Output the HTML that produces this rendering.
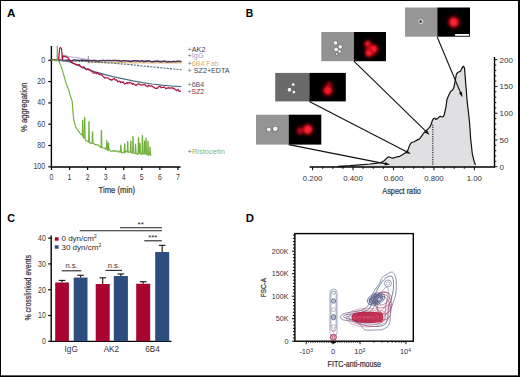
<!DOCTYPE html>
<html><head><meta charset="utf-8"><style>
html,body{margin:0;padding:0;background:#fff;overflow:hidden;width:520px;height:377px;}
svg{display:block;font-family:"Liberation Sans", sans-serif;}
</style></head><body>
<svg width="520" height="377" viewBox="0 0 520 377">
<defs>
<filter id="gl" x="-100%" y="-100%" width="300%" height="300%"><feGaussianBlur stdDeviation="1.5"/></filter>
<filter id="bl" x="-100%" y="-100%" width="300%" height="300%"><feGaussianBlur stdDeviation="0.8"/></filter>
<filter id="bl2" x="-100%" y="-100%" width="300%" height="300%"><feGaussianBlur stdDeviation="0.45"/></filter>
</defs>
<rect x="0" y="0" width="520" height="377" fill="#fff"/>
<text x="7.1" y="17.1" font-size="11.6" fill="#000" text-anchor="start" font-weight="bold" textLength="8.4" lengthAdjust="spacingAndGlyphs" >A</text>
<line x1="51.4" y1="46" x2="51.4" y2="167.6" stroke="#000" stroke-width="1.4"/>
<line x1="50.7" y1="167" x2="180.6" y2="167" stroke="#000" stroke-width="1.4"/>
<line x1="48.3" y1="60.30" x2="51" y2="60.30" stroke="#000" stroke-width="1.2"/>
<text x="45.1" y="62.699999999999996" font-size="8.2" fill="#3a3a3a" text-anchor="end" font-weight="normal" textLength="3.9" lengthAdjust="spacingAndGlyphs" >0</text>
<line x1="48.3" y1="81.60" x2="51" y2="81.60" stroke="#000" stroke-width="1.2"/>
<text x="45.1" y="84.0" font-size="8.2" fill="#3a3a3a" text-anchor="end" font-weight="normal" textLength="7.8" lengthAdjust="spacingAndGlyphs" >20</text>
<line x1="48.3" y1="102.90" x2="51" y2="102.90" stroke="#000" stroke-width="1.2"/>
<text x="45.1" y="105.3" font-size="8.2" fill="#3a3a3a" text-anchor="end" font-weight="normal" textLength="7.8" lengthAdjust="spacingAndGlyphs" >40</text>
<line x1="48.3" y1="124.20" x2="51" y2="124.20" stroke="#000" stroke-width="1.2"/>
<text x="45.1" y="126.6" font-size="8.2" fill="#3a3a3a" text-anchor="end" font-weight="normal" textLength="7.8" lengthAdjust="spacingAndGlyphs" >60</text>
<line x1="48.3" y1="145.50" x2="51" y2="145.50" stroke="#000" stroke-width="1.2"/>
<text x="45.1" y="147.9" font-size="8.2" fill="#3a3a3a" text-anchor="end" font-weight="normal" textLength="7.8" lengthAdjust="spacingAndGlyphs" >80</text>
<line x1="48.3" y1="166.80" x2="51" y2="166.80" stroke="#000" stroke-width="1.2"/>
<text x="45.1" y="169.20000000000002" font-size="8.2" fill="#3a3a3a" text-anchor="end" font-weight="normal" textLength="11.7" lengthAdjust="spacingAndGlyphs" >100</text>
<line x1="51.50" y1="167" x2="51.50" y2="170" stroke="#000" stroke-width="1.2"/>
<text x="51.5" y="180.2" font-size="8.2" fill="#3a3a3a" text-anchor="middle" font-weight="normal" textLength="3.9" lengthAdjust="spacingAndGlyphs" >0</text>
<line x1="69.56" y1="167" x2="69.56" y2="170" stroke="#000" stroke-width="1.2"/>
<text x="69.56" y="180.2" font-size="8.2" fill="#3a3a3a" text-anchor="middle" font-weight="normal" textLength="3.9" lengthAdjust="spacingAndGlyphs" >1</text>
<line x1="87.62" y1="167" x2="87.62" y2="170" stroke="#000" stroke-width="1.2"/>
<text x="87.62" y="180.2" font-size="8.2" fill="#3a3a3a" text-anchor="middle" font-weight="normal" textLength="3.9" lengthAdjust="spacingAndGlyphs" >2</text>
<line x1="105.68" y1="167" x2="105.68" y2="170" stroke="#000" stroke-width="1.2"/>
<text x="105.67999999999999" y="180.2" font-size="8.2" fill="#3a3a3a" text-anchor="middle" font-weight="normal" textLength="3.9" lengthAdjust="spacingAndGlyphs" >3</text>
<line x1="123.74" y1="167" x2="123.74" y2="170" stroke="#000" stroke-width="1.2"/>
<text x="123.74" y="180.2" font-size="8.2" fill="#3a3a3a" text-anchor="middle" font-weight="normal" textLength="3.9" lengthAdjust="spacingAndGlyphs" >4</text>
<line x1="141.80" y1="167" x2="141.80" y2="170" stroke="#000" stroke-width="1.2"/>
<text x="141.8" y="180.2" font-size="8.2" fill="#3a3a3a" text-anchor="middle" font-weight="normal" textLength="3.9" lengthAdjust="spacingAndGlyphs" >5</text>
<line x1="159.86" y1="167" x2="159.86" y2="170" stroke="#000" stroke-width="1.2"/>
<text x="159.85999999999999" y="180.2" font-size="8.2" fill="#3a3a3a" text-anchor="middle" font-weight="normal" textLength="3.9" lengthAdjust="spacingAndGlyphs" >6</text>
<line x1="177.92" y1="167" x2="177.92" y2="170" stroke="#000" stroke-width="1.2"/>
<text x="177.92" y="180.2" font-size="8.2" fill="#3a3a3a" text-anchor="middle" font-weight="normal" textLength="3.9" lengthAdjust="spacingAndGlyphs" >7</text>
<text x="116.8" y="192.8" font-size="9.2" fill="#333" text-anchor="middle" font-weight="normal" textLength="36.4" lengthAdjust="spacingAndGlyphs" stroke="#333" stroke-width="0.22">Time (min)</text>
<g transform="translate(27.1,107.3) rotate(-90)"><text x="0" y="0" font-size="9.2" fill="#333" text-anchor="middle" font-weight="normal" textLength="49.5" lengthAdjust="spacingAndGlyphs" stroke="#333" stroke-width="0.22">% aggregation</text></g>
<polyline points="51.50,60.30 60.00,60.30 62.50,56.00 65.00,55.30 68.00,56.50 75.00,57.50 88.00,59.50 90.00,60.43 92.29,60.39 94.58,60.61 96.86,60.40 99.15,60.61 101.44,60.57 103.72,60.47 106.01,60.68 108.30,60.51 110.59,60.70 112.88,60.58 115.16,60.61 117.45,60.77 119.74,60.96 122.03,60.70 124.31,60.76 126.60,60.95 128.89,61.10 131.18,60.98 133.46,60.93 135.75,61.19 138.04,60.84 140.32,61.19 142.61,60.99 144.90,60.96 147.19,60.97 149.47,61.07 151.76,61.30 154.05,61.07 156.34,61.26 158.62,61.31 160.91,61.22 163.20,61.32 165.49,61.15 167.78,61.17 170.06,61.26 172.35,61.47 174.64,61.40 176.93,61.38 179.21,61.51 181.50,61.48" fill="none" stroke="#b3a7d6" stroke-width="1.1"/>
<polyline points="88.50,62.32 90.83,62.53 93.15,62.51 95.47,62.34 97.80,62.49 100.12,62.49 102.45,62.64 104.78,62.60 107.10,62.44 109.42,62.73 111.75,62.40 114.08,62.53 116.40,62.68 118.72,62.46 121.05,62.61 123.38,62.44 125.70,62.71 128.03,62.76 130.35,62.70 132.68,62.84 135.00,62.63 137.32,62.79 139.65,62.77 141.97,62.78 144.30,62.74 146.62,62.91 148.95,62.97 151.28,62.79 153.60,62.89 155.93,62.66 158.25,62.93 160.57,62.92 162.90,63.08 165.22,63.02 167.55,62.82 169.88,62.88 172.20,63.01 174.53,62.76 176.85,62.95 179.18,62.85 181.50,62.85" fill="none" stroke="#e2bc86" stroke-width="1.2"/>
<line x1="88.3" y1="56" x2="88.3" y2="63.5" stroke="#777" stroke-width="0.8"/>
<polyline points="51.50,60.50 70.00,61.00 88.00,61.60 110.00,63.00 130.00,64.60 150.00,66.70 181.50,69.80" fill="none" stroke="#4f6f78" stroke-width="1.1" stroke-dasharray="2.2,1.1"/>
<polyline points="51.50,59.70 52.80,60.36 54.10,59.80 55.40,59.92 56.70,60.07 58.00,60.51 59.30,59.82 60.60,60.17 61.90,60.27 63.20,60.59 64.50,60.55 65.80,60.60 67.10,60.09 68.40,60.23 69.70,60.20 71.00,60.69 72.30,60.77 73.60,60.06 74.90,60.10 76.20,60.16 77.50,60.18 78.80,60.42 80.10,60.53 81.40,60.25 82.70,60.04 84.00,60.43 85.30,60.40 86.60,60.59 87.90,60.96 89.20,60.74 90.50,60.59 91.80,60.70 93.10,60.77 94.40,60.23 95.70,61.00 97.00,60.91 98.30,61.01 99.60,60.96 100.90,60.61 102.20,60.63 103.50,60.38 104.80,60.88 106.10,60.38 107.40,60.40 108.70,60.54 110.00,60.52 111.30,60.69 112.60,60.45 113.90,60.42 115.20,60.57 116.50,60.54 117.80,60.79 119.10,60.50 120.40,61.28 121.70,61.07 123.00,60.66 124.30,60.77 125.60,60.87 126.90,60.91 128.20,60.70 129.50,61.37 130.80,61.52 132.10,61.06 133.40,61.09 134.70,60.75 136.00,60.78 137.30,61.01 138.60,60.96 139.90,61.48 141.20,60.90 142.50,60.79 143.80,61.64 145.10,61.28 146.40,60.95 147.70,61.32 149.00,60.87 150.30,61.34 151.60,61.76 152.90,61.67 154.20,61.54 155.50,61.17 156.80,61.28 158.10,61.11 159.40,61.67 160.70,61.47 162.00,61.71 163.30,61.32 164.60,61.24 165.90,61.79 167.20,61.96 168.50,61.86 169.80,61.83 171.10,61.86 172.40,61.80 173.70,61.36 175.00,61.64 176.30,61.51 177.60,61.23 178.90,61.24 180.20,61.49 181.50,61.48" fill="none" stroke="#4b3352" stroke-width="1.5"/>
<polyline points="51.50,60.40 60.00,60.50 66.00,61.00 72.00,62.80 78.00,65.30 85.00,68.60 95.00,71.80 104.20,74.30 113.00,76.60 123.50,78.90 133.00,80.90 142.70,82.60 152.00,84.00 161.90,85.20 171.00,86.00 181.20,86.70" fill="none" stroke="#4e6b82" stroke-width="1.2"/>
<polyline points="51.50,60.30 57.50,60.30 58.60,59.50 59.60,48.50 60.50,47.30 61.50,49.00 62.60,59.50 63.00,56.00 64.00,56.32 64.90,56.41 65.80,56.87 66.70,56.83 67.60,57.41 68.50,58.38 69.40,59.82 70.30,60.85 71.20,62.11 72.10,62.67 73.00,63.38 73.90,63.32 74.80,64.06 75.70,64.64 76.60,64.31 77.50,65.49 78.40,64.78 79.30,64.55 80.20,65.93 81.10,66.94 82.00,67.35 82.90,67.56 83.80,66.74 84.70,67.71 85.60,68.97 86.50,69.70 87.40,68.93 88.30,68.84 89.20,69.53 90.10,69.78 91.00,71.14 91.90,71.20 92.80,72.33 93.70,73.18 94.60,73.09 95.50,72.22 96.40,73.68 97.30,72.47 98.20,73.87 99.10,74.03 100.00,74.77 100.90,74.47 101.80,74.78 102.70,76.20 103.60,76.74 104.50,77.89 105.40,77.98 106.30,77.95 107.20,77.94 108.10,78.11 109.00,78.77 109.90,79.73 110.80,79.62 111.70,80.25 112.60,79.28 113.50,78.77 114.40,78.61 115.30,80.06 116.20,79.72 117.10,80.67 118.00,81.76 118.90,81.15 119.80,81.29 120.70,82.68 121.60,81.90 122.50,82.31 123.40,82.01 124.30,84.06 125.20,83.83 126.10,83.32 127.00,82.49 127.90,83.55 128.80,82.83 129.70,82.37 130.60,82.64 131.50,83.16 132.40,84.30 133.30,83.65 134.20,84.19 135.10,84.87 136.00,85.51 136.90,84.67 137.80,84.01 138.70,83.67 139.60,84.32 140.50,84.93 141.40,84.75 142.30,85.23 143.20,84.71 144.10,84.35 145.00,84.73 145.90,85.88 146.80,86.05 147.70,86.73 148.60,85.18 149.50,85.92 150.40,86.22 151.30,85.70 152.20,86.11 153.10,87.18 154.00,87.15 154.90,88.13 155.80,88.41 156.70,88.22 157.60,88.30 158.50,86.71 159.40,86.65 160.30,86.31 161.20,87.74 162.10,87.40 163.00,87.33 163.90,87.09 164.80,87.24 165.70,88.80 166.60,88.28 167.50,88.18 168.40,87.58 169.30,88.27 170.20,88.16 171.10,87.78 172.00,87.78 172.90,88.61 173.80,88.09 174.70,88.94 175.60,89.70 176.50,90.61 177.40,90.04 178.30,89.42 179.20,91.54 180.10,91.02 181.00,91.25" fill="none" stroke="#ae1440" stroke-width="1.25" stroke-linejoin="round"/>
<polyline points="51.50,60.30 57.20,60.30 57.30,46.00 57.40,60.30 57.80,60.05 58.60,61.06 59.40,61.99 60.20,64.44 61.00,66.49 61.80,68.45 62.60,70.67 63.40,73.89 64.20,76.53 65.00,79.63 65.80,82.27 66.60,84.64 67.40,86.56 68.20,89.00 69.00,90.83 69.80,94.19 70.60,96.46 71.40,98.89 72.20,101.37 73.00,112.97 73.80,119.99 74.60,122.57 75.40,126.25 76.20,127.95 77.00,129.03 77.80,130.25 78.60,131.63 79.40,131.86 80.20,133.78 81.00,134.39 81.80,134.78 82.60,135.82 82.35,134.84 82.60,120.20 82.85,121.20 83.10,135.34 83.30,136.84 83.40,137.65 84.20,137.99 84.35,136.94 84.60,117.30 84.85,118.30 85.10,137.44 85.30,138.94 85.00,139.34 85.80,140.75 86.60,140.92 87.40,141.12 88.20,141.60 89.00,142.30 88.65,139.98 88.90,121.60 89.15,122.60 89.40,140.48 89.60,141.98 89.80,142.97 90.60,143.21 91.40,143.55 92.20,142.88 92.15,141.51 92.40,131.70 92.65,132.70 92.90,142.01 93.10,143.51 93.00,142.84 93.80,143.20 94.60,144.45 95.40,144.46 96.20,145.13 97.00,144.64 97.80,144.67 98.60,145.25 99.40,146.44 100.20,147.26 101.00,147.76 101.05,145.45 101.30,130.30 101.55,131.30 101.80,145.95 102.00,147.45 101.80,147.42 102.60,147.78 103.40,147.99 104.20,148.22 105.00,147.84 105.80,149.17 106.60,148.71 106.55,147.17 106.80,140.40 107.05,141.40 107.30,147.67 107.50,149.17 107.40,150.00 108.20,150.70 108.15,147.67 108.40,143.00 108.65,144.00 108.90,148.17 109.10,149.67 109.00,149.52 109.80,149.85 110.60,150.79 111.40,151.65 112.20,151.26 113.00,150.71 113.80,150.38 114.60,151.59 115.40,150.92 116.20,151.29 117.00,150.74 117.80,151.20 118.60,152.24 119.40,151.34 120.20,152.17 120.45,149.83 120.70,145.00 120.95,146.00 121.20,150.33 121.40,151.83 121.00,152.07 121.80,152.75 122.60,152.81 123.40,152.04 124.20,152.90 124.35,150.29 124.60,143.70 124.85,144.70 125.10,150.79 125.30,152.29 125.00,152.63 125.80,151.72 126.60,151.26 127.40,151.93 127.35,150.59 127.60,141.50 127.85,142.50 128.10,151.09 128.30,152.59 128.20,152.22 129.00,152.13 129.80,151.82 130.60,152.07 130.45,150.83 130.70,141.00 130.95,142.00 131.20,151.33 131.40,152.83 131.40,152.17 132.20,153.19 133.00,152.23 132.65,150.99 132.90,136.30 133.15,137.30 133.40,151.49 133.60,152.99 133.80,153.12 134.60,153.76 135.40,152.81 135.15,151.18 135.40,144.00 135.65,145.00 135.90,151.68 136.10,153.18 136.20,153.82 137.00,153.97 137.80,154.42 138.15,151.41 138.40,137.60 138.65,138.60 138.90,151.91 139.10,153.41 138.60,153.57 139.40,153.32 139.65,151.52 139.90,143.00 140.15,144.00 140.40,152.02 140.60,153.52 140.20,153.27 141.00,154.36 141.80,154.29 142.05,151.85 142.30,135.40 142.55,136.40 142.80,152.35 143.00,153.85 142.60,153.91 143.40,153.92 144.20,153.72 144.15,152.24 144.40,141.00 144.65,142.00 144.90,152.74 145.10,154.24 145.00,153.28 145.80,153.23 145.65,152.51 145.90,138.00 146.15,139.00 146.40,153.01 146.60,154.51 146.60,154.60 147.40,154.37 147.65,152.87 147.90,141.00 148.15,142.00 148.40,153.37 148.60,154.87 148.20,155.50 149.00,154.90 149.80,154.70 149.65,153.24 149.90,147.00 150.15,148.00 150.40,153.74 150.60,155.24 150.60,155.11 151.40,154.82" fill="none" stroke="#72b040" stroke-width="1.15" stroke-linejoin="round"/>
<text x="187.6" y="51.5" font-size="7.2" fill="#3d3452" text-anchor="start" font-weight="normal" textLength="17.8" lengthAdjust="spacingAndGlyphs" ><tspan fill="#6a6a6a">+</tspan>AK2</text>
<text x="187.6" y="58.2" font-size="7.2" fill="#97a0d4" text-anchor="start" font-weight="normal" textLength="16" lengthAdjust="spacingAndGlyphs" ><tspan fill="#6a6a6a">+</tspan>IgG</text>
<text x="187.6" y="65.5" font-size="7.2" fill="#e0b06a" text-anchor="start" font-weight="normal" textLength="31" lengthAdjust="spacingAndGlyphs" ><tspan fill="#6a6a6a">+</tspan>6B4 Fab</text>
<text x="187.6" y="72.9" font-size="7.2" fill="#38474f" text-anchor="start" font-weight="normal" textLength="42" lengthAdjust="spacingAndGlyphs" ><tspan fill="#6a6a6a">+</tspan> SZ2+EDTA</text>
<text x="187.6" y="86.9" font-size="7.2" fill="#4c5370" text-anchor="start" font-weight="normal" textLength="16.5" lengthAdjust="spacingAndGlyphs" ><tspan fill="#6a6a6a">+</tspan>6B4</text>
<text x="187.6" y="93.6" font-size="7.2" fill="#8d1c3c" text-anchor="start" font-weight="normal" textLength="16.5" lengthAdjust="spacingAndGlyphs" ><tspan fill="#6a6a6a">+</tspan>SZ2</text>
<text x="187.6" y="154.4" font-size="7.2" fill="#8ab85a" text-anchor="start" font-weight="normal" textLength="37.2" lengthAdjust="spacingAndGlyphs" ><tspan fill="#6a6a6a">+</tspan>Ristocetin</text>
<text x="245.8" y="16.7" font-size="11.6" fill="#000" text-anchor="start" font-weight="bold" textLength="7.5" lengthAdjust="spacingAndGlyphs" >B</text>
<path d="M309.6,166.7 L338,166.3 L350,165.7 L360,164.8 L370,164 L375.6,163.3 L381.1,162.4 L383.9,161 L386.2,158.7 L388.6,156.8 L390,157.3 L392.3,158.2 L394.6,157.7 L396.9,156.8 L399.7,156.3 L402,155 L404.3,153.6 L406.6,152.2 L407.6,150.8 L409,147.1 L410.4,143.8 L411.7,142.4 L413.6,142 L416.4,140.4 L419.5,138.9 L421.9,135.7 L424.3,132.5 L427.5,129.3 L429.9,126.9 L431.1,124.5 L432.3,120.6 L433.5,118.6 L434.7,118.2 L435.8,119.4 L437.4,118.6 L438.6,117.4 L440.2,116.2 L441.8,117 L443.4,116.6 L444.3,114.5 L446,106.7 L446.9,99.8 L448.6,95.5 L450.7,91.2 L452.4,90.3 L453.8,87.8 L455.2,80.9 L456.4,74 L458.1,72.2 L460.3,71.4 L461.6,68.8 L463.3,66.2 L464.5,67.9 L465.9,86 L467.2,101.6 L468.4,112 L469.5,122 L470.6,138 L472.3,153.8 L474.2,161.5 L475.5,165 L476.5,166.7 Z" fill="#e0e0e2" stroke="none"/>
<polyline points="338.00,166.30 350.00,165.70 360.00,164.80 370.00,164.00 375.60,163.30 381.10,162.40 383.90,161.00 386.20,158.70 388.60,156.80 390.00,157.30 392.30,158.20 394.60,157.70 396.90,156.80 399.70,156.30 402.00,155.00 404.30,153.60 406.60,152.20 407.60,150.80 409.00,147.10 410.40,143.80 411.70,142.40 413.60,142.00 416.40,140.40 419.50,138.90 421.90,135.70 424.30,132.50 427.50,129.30 429.90,126.90 431.10,124.50 432.30,120.60 433.50,118.60 434.70,118.20 435.80,119.40 437.40,118.60 438.60,117.40 440.20,116.20 441.80,117.00 443.40,116.60 444.30,114.50 446.00,106.70 446.90,99.80 448.60,95.50 450.70,91.20 452.40,90.30 453.80,87.80 455.20,80.90 456.40,74.00 458.10,72.20 460.30,71.40 461.60,68.80 463.30,66.20 464.50,67.90 465.90,86.00 467.20,101.60 468.40,112.00 469.50,122.00 470.60,138.00 472.30,153.80 474.20,161.50 475.50,165.00" fill="none" stroke="#111" stroke-width="1.2" stroke-linejoin="round"/>
<line x1="432.8" y1="124.5" x2="432.8" y2="166" stroke="#222" stroke-width="1.1" stroke-dasharray="1.2,1.1"/>
<line x1="309.6" y1="166.9" x2="494.8" y2="166.9" stroke="#000" stroke-width="1.5"/>
<line x1="494.5" y1="57" x2="494.5" y2="167.6" stroke="#000" stroke-width="1.4"/>
<line x1="312.60" y1="167" x2="312.60" y2="170.2" stroke="#000" stroke-width="1"/>
<line x1="322.71" y1="167" x2="322.71" y2="168.8" stroke="#000" stroke-width="1"/>
<line x1="332.82" y1="167" x2="332.82" y2="168.8" stroke="#000" stroke-width="1"/>
<line x1="342.93" y1="167" x2="342.93" y2="168.8" stroke="#000" stroke-width="1"/>
<line x1="353.04" y1="167" x2="353.04" y2="170.2" stroke="#000" stroke-width="1"/>
<line x1="363.15" y1="167" x2="363.15" y2="168.8" stroke="#000" stroke-width="1"/>
<line x1="373.26" y1="167" x2="373.26" y2="168.8" stroke="#000" stroke-width="1"/>
<line x1="383.37" y1="167" x2="383.37" y2="168.8" stroke="#000" stroke-width="1"/>
<line x1="393.48" y1="167" x2="393.48" y2="170.2" stroke="#000" stroke-width="1"/>
<line x1="403.59" y1="167" x2="403.59" y2="168.8" stroke="#000" stroke-width="1"/>
<line x1="413.70" y1="167" x2="413.70" y2="168.8" stroke="#000" stroke-width="1"/>
<line x1="423.81" y1="167" x2="423.81" y2="168.8" stroke="#000" stroke-width="1"/>
<line x1="433.92" y1="167" x2="433.92" y2="170.2" stroke="#000" stroke-width="1"/>
<line x1="444.03" y1="167" x2="444.03" y2="168.8" stroke="#000" stroke-width="1"/>
<line x1="454.14" y1="167" x2="454.14" y2="168.8" stroke="#000" stroke-width="1"/>
<line x1="464.25" y1="167" x2="464.25" y2="168.8" stroke="#000" stroke-width="1"/>
<line x1="474.36" y1="167" x2="474.36" y2="170.2" stroke="#000" stroke-width="1"/>
<text x="312.6" y="180.9" font-size="7.8" fill="#333" text-anchor="middle" font-weight="normal" >0.200</text>
<text x="353.04" y="180.9" font-size="7.8" fill="#333" text-anchor="middle" font-weight="normal" >0.400</text>
<text x="393.48" y="180.9" font-size="7.8" fill="#333" text-anchor="middle" font-weight="normal" >0.600</text>
<text x="433.92" y="180.9" font-size="7.8" fill="#333" text-anchor="middle" font-weight="normal" >0.800</text>
<text x="474.36" y="180.9" font-size="7.8" fill="#333" text-anchor="middle" font-weight="normal" >1.00</text>
<text x="401.6" y="194" font-size="9" fill="#333" text-anchor="middle" font-weight="normal" textLength="38.5" lengthAdjust="spacingAndGlyphs" stroke="#333" stroke-width="0.22">Aspect ratio</text>
<line x1="494.5" y1="166.70" x2="497.5" y2="166.70" stroke="#000" stroke-width="0.9"/>
<text x="499.6" y="169.5" font-size="8" fill="#333" text-anchor="start" font-weight="normal" >0</text>
<line x1="494.5" y1="161.35" x2="496.3" y2="161.35" stroke="#000" stroke-width="0.9"/>
<line x1="494.5" y1="156.00" x2="496.3" y2="156.00" stroke="#000" stroke-width="0.9"/>
<line x1="494.5" y1="150.65" x2="496.3" y2="150.65" stroke="#000" stroke-width="0.9"/>
<line x1="494.5" y1="145.30" x2="496.3" y2="145.30" stroke="#000" stroke-width="0.9"/>
<line x1="494.5" y1="139.95" x2="497.5" y2="139.95" stroke="#000" stroke-width="0.9"/>
<text x="499.6" y="142.75" font-size="8" fill="#333" text-anchor="start" font-weight="normal" >50</text>
<line x1="494.5" y1="134.60" x2="496.3" y2="134.60" stroke="#000" stroke-width="0.9"/>
<line x1="494.5" y1="129.25" x2="496.3" y2="129.25" stroke="#000" stroke-width="0.9"/>
<line x1="494.5" y1="123.90" x2="496.3" y2="123.90" stroke="#000" stroke-width="0.9"/>
<line x1="494.5" y1="118.55" x2="496.3" y2="118.55" stroke="#000" stroke-width="0.9"/>
<line x1="494.5" y1="113.20" x2="497.5" y2="113.20" stroke="#000" stroke-width="0.9"/>
<text x="499.6" y="115.99999999999999" font-size="8" fill="#333" text-anchor="start" font-weight="normal" >100</text>
<line x1="494.5" y1="107.85" x2="496.3" y2="107.85" stroke="#000" stroke-width="0.9"/>
<line x1="494.5" y1="102.50" x2="496.3" y2="102.50" stroke="#000" stroke-width="0.9"/>
<line x1="494.5" y1="97.15" x2="496.3" y2="97.15" stroke="#000" stroke-width="0.9"/>
<line x1="494.5" y1="91.80" x2="496.3" y2="91.80" stroke="#000" stroke-width="0.9"/>
<line x1="494.5" y1="86.45" x2="497.5" y2="86.45" stroke="#000" stroke-width="0.9"/>
<text x="499.6" y="89.24999999999999" font-size="8" fill="#333" text-anchor="start" font-weight="normal" >150</text>
<line x1="494.5" y1="81.10" x2="496.3" y2="81.10" stroke="#000" stroke-width="0.9"/>
<line x1="494.5" y1="75.75" x2="496.3" y2="75.75" stroke="#000" stroke-width="0.9"/>
<line x1="494.5" y1="70.40" x2="496.3" y2="70.40" stroke="#000" stroke-width="0.9"/>
<line x1="494.5" y1="65.05" x2="496.3" y2="65.05" stroke="#000" stroke-width="0.9"/>
<line x1="494.5" y1="59.70" x2="497.5" y2="59.70" stroke="#000" stroke-width="0.9"/>
<text x="499.6" y="62.499999999999986" font-size="8" fill="#333" text-anchor="start" font-weight="normal" >200</text>
<rect x="405" y="7.5" width="32.3" height="29.2" fill="#979797"/><rect x="437.3" y="7.5" width="32.7" height="29.2" fill="#000"/><g filter="url(#bl2)"><circle cx="420.8" cy="21.6" r="2.4" fill="#e8e8e8"/><circle cx="420.6" cy="21.4" r="1.5" fill="#505050"/></g><circle cx="453.8" cy="22.1" r="7" fill="#a00010" opacity="0.55" filter="url(#gl)"/><circle cx="453.8" cy="22.1" r="4.3" fill="#ff2030" filter="url(#bl)"/><rect x="455.1" y="34" width="14" height="1.8" fill="#fff"/>
<rect x="321.3" y="32" width="32.6" height="29.2" fill="#929292"/><rect x="353.90000000000003" y="32" width="32.1" height="29.2" fill="#000"/><g filter="url(#bl2)"><circle cx="335.5" cy="42.8" r="2.4" fill="#333" opacity="0.55"/><circle cx="335.5" cy="42.8" r="1.9" fill="#f4f4f4"/><circle cx="340.2" cy="46.8" r="2.4" fill="#333" opacity="0.55"/><circle cx="340.2" cy="46.8" r="1.9" fill="#f4f4f4"/><circle cx="336.2" cy="49.5" r="2.4" fill="#333" opacity="0.55"/><circle cx="336.2" cy="49.5" r="1.9" fill="#f4f4f4"/><circle cx="339.5" cy="51.5" r="1.9" fill="#333" opacity="0.55"/><circle cx="339.5" cy="51.5" r="1.4" fill="#f4f4f4"/><circle cx="336.8" cy="54" r="1.4" fill="#333" opacity="0.55"/><circle cx="336.8" cy="54" r="0.9" fill="#f4f4f4"/></g><circle cx="367.8" cy="44" r="4.5" fill="#a00010" opacity="0.55" filter="url(#gl)"/><circle cx="367.8" cy="44" r="2.7" fill="#ff2030" filter="url(#bl)"/><circle cx="371.1" cy="50" r="6.5" fill="#a00010" opacity="0.55" filter="url(#gl)"/><circle cx="371.1" cy="50" r="4.3" fill="#ff2030" filter="url(#bl)"/><circle cx="373.6" cy="48.8" r="5.58" fill="#a00010" opacity="0.55" filter="url(#gl)"/><circle cx="373.6" cy="48.8" r="3.1" fill="#ff2030" filter="url(#bl)"/><circle cx="368.8" cy="53.2" r="4.86" fill="#a00010" opacity="0.55" filter="url(#gl)"/><circle cx="368.8" cy="53.2" r="2.7" fill="#ff2030" filter="url(#bl)"/>
<rect x="275.2" y="72.9" width="34.1" height="28.5" fill="#6a6a6a"/><rect x="309.3" y="72.9" width="36.5" height="28.5" fill="#000"/><g filter="url(#bl2)"><circle cx="293.2" cy="84.6" r="2.0" fill="#333" opacity="0.55"/><circle cx="293.2" cy="84.6" r="1.5" fill="#f4f4f4"/><circle cx="289.5" cy="89.7" r="2.5" fill="#333" opacity="0.55"/><circle cx="289.5" cy="89.7" r="2" fill="#f4f4f4"/><circle cx="293.9" cy="91.9" r="2.0" fill="#333" opacity="0.55"/><circle cx="293.9" cy="91.9" r="1.5" fill="#f4f4f4"/></g><circle cx="329" cy="84.6" r="3.5" fill="#a00010" opacity="0.55" filter="url(#gl)"/><circle cx="329" cy="84.6" r="1.8" fill="#a01020" filter="url(#bl)"/><circle cx="327.8" cy="90.3" r="6.5" fill="#a00010" opacity="0.55" filter="url(#gl)"/><circle cx="327.8" cy="90.3" r="3.3" fill="#ff2030" filter="url(#bl)"/><path d="M327.8,85.5 L331.5,90.5 L327.8,95 L324.2,90.5 Z" fill="#f01828" filter="url(#bl)"/>
<rect x="256" y="114.7" width="32.7" height="29.9" fill="#949494"/><rect x="288.7" y="114.7" width="32.6" height="29.9" fill="#000"/><g filter="url(#bl2)"><circle cx="268.8" cy="129.5" r="2.5" fill="#333" opacity="0.55"/><circle cx="268.8" cy="129.5" r="2" fill="#f4f4f4"/><circle cx="275.3" cy="128.8" r="2.9" fill="#333" opacity="0.55"/><circle cx="275.3" cy="128.8" r="2.4" fill="#f4f4f4"/></g><circle cx="300.4" cy="130.8" r="4.5" fill="#a00010" opacity="0.55" filter="url(#gl)"/><circle cx="300.4" cy="130.8" r="2.8" fill="#b01020" filter="url(#bl)"/><circle cx="307.8" cy="129.5" r="6.5" fill="#a00010" opacity="0.55" filter="url(#gl)"/><circle cx="307.8" cy="129.5" r="4.2" fill="#ff2030" filter="url(#bl)"/>
<line x1="437.2" y1="37" x2="460.78" y2="93.33" stroke="#111" stroke-width="1.1"/><polygon points="462.4,97.2 458.82,93.06 461.96,91.75" fill="#111"/>
<line x1="353.9" y1="61.2" x2="426.49" y2="131.97" stroke="#111" stroke-width="1.1"/><polygon points="429.5,134.9 424.59,132.49 426.96,130.05" fill="#111"/>
<line x1="309.3" y1="101.4" x2="407.07" y2="152.07" stroke="#111" stroke-width="1.1"/><polygon points="410.8,154 405.40,153.12 406.97,150.10" fill="#111"/>
<line x1="288.7" y1="144.6" x2="385.88" y2="163.88" stroke="#111" stroke-width="1.1"/><polygon points="390,164.7 384.57,165.36 385.23,162.02" fill="#111"/>
<text x="7.2" y="221.5" font-size="11.6" fill="#000" text-anchor="start" font-weight="bold" textLength="7.8" lengthAdjust="spacingAndGlyphs" >C</text>
<line x1="51.2" y1="235.5" x2="51.2" y2="342" stroke="#000" stroke-width="1.4"/>
<line x1="50.5" y1="341.4" x2="171.5" y2="341.4" stroke="#000" stroke-width="1.4"/>
<line x1="48.2" y1="341.30" x2="51" y2="341.30" stroke="#000" stroke-width="1.2"/>
<text x="45.8" y="344.2" font-size="8.2" fill="#3a3a3a" text-anchor="end" font-weight="normal" textLength="3.9" lengthAdjust="spacingAndGlyphs" >0</text>
<line x1="48.2" y1="315.50" x2="51" y2="315.50" stroke="#000" stroke-width="1.2"/>
<text x="45.8" y="318.4" font-size="8.2" fill="#3a3a3a" text-anchor="end" font-weight="normal" textLength="7.8" lengthAdjust="spacingAndGlyphs" >10</text>
<line x1="48.2" y1="289.70" x2="51" y2="289.70" stroke="#000" stroke-width="1.2"/>
<text x="45.8" y="292.59999999999997" font-size="8.2" fill="#3a3a3a" text-anchor="end" font-weight="normal" textLength="7.8" lengthAdjust="spacingAndGlyphs" >20</text>
<line x1="48.2" y1="263.90" x2="51" y2="263.90" stroke="#000" stroke-width="1.2"/>
<text x="45.8" y="266.79999999999995" font-size="8.2" fill="#3a3a3a" text-anchor="end" font-weight="normal" textLength="7.8" lengthAdjust="spacingAndGlyphs" >30</text>
<line x1="48.2" y1="238.10" x2="51" y2="238.10" stroke="#000" stroke-width="1.2"/>
<text x="45.8" y="241.00000000000003" font-size="8.2" fill="#3a3a3a" text-anchor="end" font-weight="normal" textLength="7.8" lengthAdjust="spacingAndGlyphs" >40</text>
<line x1="62.05" y1="282.48" x2="62.05" y2="280.41" stroke="#111" stroke-width="1.1"/>
<line x1="58.75" y1="280.41" x2="65.35" y2="280.41" stroke="#111" stroke-width="1.1"/>
<rect x="55.2" y="282.48" width="13.70" height="58.82" fill="#a8042f"/>
<line x1="80.60" y1="277.57" x2="80.60" y2="275.25" stroke="#111" stroke-width="1.1"/>
<line x1="77.30" y1="275.25" x2="83.90" y2="275.25" stroke="#111" stroke-width="1.1"/>
<rect x="73.7" y="277.57" width="13.80" height="63.73" fill="#2c4d7e"/>
<line x1="102.70" y1="284.02" x2="102.70" y2="277.83" stroke="#111" stroke-width="1.1"/>
<line x1="99.40" y1="277.83" x2="106.00" y2="277.83" stroke="#111" stroke-width="1.1"/>
<rect x="95.7" y="284.02" width="14.00" height="57.28" fill="#a8042f"/>
<line x1="120.85" y1="276.03" x2="120.85" y2="273.96" stroke="#111" stroke-width="1.1"/>
<line x1="117.55" y1="273.96" x2="124.15" y2="273.96" stroke="#111" stroke-width="1.1"/>
<rect x="113.8" y="276.03" width="14.10" height="65.27" fill="#2c4d7e"/>
<line x1="143.20" y1="283.77" x2="143.20" y2="281.70" stroke="#111" stroke-width="1.1"/>
<line x1="139.90" y1="281.70" x2="146.50" y2="281.70" stroke="#111" stroke-width="1.1"/>
<rect x="136.2" y="283.77" width="14.00" height="57.53" fill="#a8042f"/>
<line x1="162.20" y1="252.03" x2="162.20" y2="245.32" stroke="#111" stroke-width="1.1"/>
<line x1="158.90" y1="245.32" x2="165.50" y2="245.32" stroke="#111" stroke-width="1.1"/>
<rect x="155.2" y="252.03" width="14.00" height="89.27" fill="#2c4d7e"/>
<rect x="54.8" y="237.3" width="3.8" height="3.4" fill="#a8042f"/>
<rect x="54.8" y="245.3" width="3.8" height="3.4" fill="#2c4d7e"/>
<text x="61.5" y="240.8" font-size="8" fill="#2a2a2a" text-anchor="start" font-weight="normal" >0 dyn/cm<tspan font-size="5" dy="-2.8">2</tspan></text>
<text x="61.5" y="249.7" font-size="8" fill="#2a2a2a" text-anchor="start" font-weight="normal" >30 dyn/cm<tspan font-size="5" dy="-2.8">2</tspan></text>
<line x1="61.7" y1="270.8" x2="81.3" y2="270.8" stroke="#222" stroke-width="1.1"/>
<text x="71.5" y="268" font-size="7.6" fill="#333" text-anchor="middle" font-weight="normal" >n.s.</text>
<line x1="105.5" y1="270.4" x2="122" y2="270.4" stroke="#222" stroke-width="1.1"/>
<text x="113.8" y="267.6" font-size="7.6" fill="#333" text-anchor="middle" font-weight="normal" >n.s.</text>
<line x1="144.3" y1="240.8" x2="161.9" y2="240.8" stroke="#222" stroke-width="1.1"/>
<text x="152.8" y="240" font-size="8" fill="#222" text-anchor="middle" font-weight="normal" >***</text>
<line x1="120" y1="227.7" x2="161.9" y2="227.7" stroke="#222" stroke-width="1.1"/>
<text x="140.7" y="227" font-size="8" fill="#222" text-anchor="middle" font-weight="normal" >**</text>
<line x1="79.7" y1="230.8" x2="161.9" y2="230.8" stroke="#222" stroke-width="1.1"/>
<text x="71.2" y="352.3" font-size="8.2" fill="#333" text-anchor="middle" font-weight="normal" >IgG</text>
<text x="111.4" y="352.3" font-size="8.2" fill="#333" text-anchor="middle" font-weight="normal" >AK2</text>
<text x="152.5" y="352.3" font-size="8.2" fill="#333" text-anchor="middle" font-weight="normal" >6B4</text>
<g transform="translate(31.1,287.8) rotate(-90)"><text x="0" y="0" font-size="9.2" fill="#333" text-anchor="middle" font-weight="normal" textLength="65.5" lengthAdjust="spacingAndGlyphs" stroke="#333" stroke-width="0.22">% crosslinked events</text></g>
<text x="245.8" y="221.5" font-size="11.6" fill="#000" text-anchor="start" font-weight="bold" textLength="8.2" lengthAdjust="spacingAndGlyphs" >D</text>
<rect x="294.9" y="233.6" width="118.4" height="107.6" fill="none" stroke="#000" stroke-width="1.4"/>
<line x1="291.9" y1="341.20" x2="294.9" y2="341.20" stroke="#000" stroke-width="1"/>
<line x1="292.9" y1="337.99" x2="294.9" y2="337.99" stroke="#000" stroke-width="1"/>
<line x1="292.9" y1="334.77" x2="294.9" y2="334.77" stroke="#000" stroke-width="1"/>
<line x1="292.9" y1="331.56" x2="294.9" y2="331.56" stroke="#000" stroke-width="1"/>
<line x1="292.9" y1="328.34" x2="294.9" y2="328.34" stroke="#000" stroke-width="1"/>
<line x1="292.9" y1="325.13" x2="294.9" y2="325.13" stroke="#000" stroke-width="1"/>
<line x1="292.9" y1="321.91" x2="294.9" y2="321.91" stroke="#000" stroke-width="1"/>
<line x1="291.9" y1="318.70" x2="294.9" y2="318.70" stroke="#000" stroke-width="1"/>
<line x1="292.9" y1="315.49" x2="294.9" y2="315.49" stroke="#000" stroke-width="1"/>
<line x1="292.9" y1="312.27" x2="294.9" y2="312.27" stroke="#000" stroke-width="1"/>
<line x1="292.9" y1="309.06" x2="294.9" y2="309.06" stroke="#000" stroke-width="1"/>
<line x1="292.9" y1="305.84" x2="294.9" y2="305.84" stroke="#000" stroke-width="1"/>
<line x1="292.9" y1="302.63" x2="294.9" y2="302.63" stroke="#000" stroke-width="1"/>
<line x1="292.9" y1="299.41" x2="294.9" y2="299.41" stroke="#000" stroke-width="1"/>
<line x1="291.9" y1="296.20" x2="294.9" y2="296.20" stroke="#000" stroke-width="1"/>
<line x1="292.9" y1="292.99" x2="294.9" y2="292.99" stroke="#000" stroke-width="1"/>
<line x1="292.9" y1="289.77" x2="294.9" y2="289.77" stroke="#000" stroke-width="1"/>
<line x1="292.9" y1="286.56" x2="294.9" y2="286.56" stroke="#000" stroke-width="1"/>
<line x1="292.9" y1="283.34" x2="294.9" y2="283.34" stroke="#000" stroke-width="1"/>
<line x1="292.9" y1="280.13" x2="294.9" y2="280.13" stroke="#000" stroke-width="1"/>
<line x1="292.9" y1="276.91" x2="294.9" y2="276.91" stroke="#000" stroke-width="1"/>
<line x1="291.9" y1="273.70" x2="294.9" y2="273.70" stroke="#000" stroke-width="1"/>
<line x1="292.9" y1="270.49" x2="294.9" y2="270.49" stroke="#000" stroke-width="1"/>
<line x1="292.9" y1="267.27" x2="294.9" y2="267.27" stroke="#000" stroke-width="1"/>
<line x1="292.9" y1="264.06" x2="294.9" y2="264.06" stroke="#000" stroke-width="1"/>
<line x1="292.9" y1="260.84" x2="294.9" y2="260.84" stroke="#000" stroke-width="1"/>
<line x1="292.9" y1="257.63" x2="294.9" y2="257.63" stroke="#000" stroke-width="1"/>
<line x1="292.9" y1="254.41" x2="294.9" y2="254.41" stroke="#000" stroke-width="1"/>
<line x1="291.9" y1="251.20" x2="294.9" y2="251.20" stroke="#000" stroke-width="1"/>
<line x1="292.9" y1="247.99" x2="294.9" y2="247.99" stroke="#000" stroke-width="1"/>
<line x1="292.9" y1="244.77" x2="294.9" y2="244.77" stroke="#000" stroke-width="1"/>
<line x1="292.9" y1="241.56" x2="294.9" y2="241.56" stroke="#000" stroke-width="1"/>
<line x1="292.9" y1="238.34" x2="294.9" y2="238.34" stroke="#000" stroke-width="1"/>
<line x1="292.9" y1="235.13" x2="294.9" y2="235.13" stroke="#000" stroke-width="1"/>
<text x="288.6" y="343.7" font-size="7.2" fill="#333" text-anchor="end" font-weight="normal" >0</text>
<text x="288.6" y="321.2" font-size="7.2" fill="#333" text-anchor="end" font-weight="normal" >50K</text>
<text x="288.6" y="298.7" font-size="7.2" fill="#333" text-anchor="end" font-weight="normal" >100K</text>
<text x="288.6" y="276.2" font-size="7.2" fill="#333" text-anchor="end" font-weight="normal" >150K</text>
<text x="288.6" y="253.7" font-size="7.2" fill="#333" text-anchor="end" font-weight="normal" >200K</text>
<g transform="translate(265.8,287.6) rotate(-90)"><text x="0" y="0" font-size="7.4" fill="#333" text-anchor="middle" font-weight="normal" textLength="19.2" lengthAdjust="spacingAndGlyphs" stroke="#333" stroke-width="0.22">FSC-A</text></g>
<line x1="306.2" y1="341" x2="306.2" y2="344.2" stroke="#000" stroke-width="0.9"/>
<line x1="333.2" y1="341" x2="333.2" y2="344.2" stroke="#000" stroke-width="0.9"/>
<line x1="360" y1="341" x2="360" y2="344.2" stroke="#000" stroke-width="0.9"/>
<line x1="406" y1="341" x2="406" y2="344.2" stroke="#000" stroke-width="0.9"/>
<line x1="308.45" y1="341" x2="308.45" y2="342.8" stroke="#000" stroke-width="0.8"/>
<line x1="310.7" y1="341" x2="310.7" y2="342.8" stroke="#000" stroke-width="0.8"/>
<line x1="312.95" y1="341" x2="312.95" y2="342.8" stroke="#000" stroke-width="0.8"/>
<line x1="315.2" y1="341" x2="315.2" y2="342.8" stroke="#000" stroke-width="0.8"/>
<line x1="317.45" y1="341" x2="317.45" y2="342.8" stroke="#000" stroke-width="0.8"/>
<line x1="319.7" y1="341" x2="319.7" y2="342.8" stroke="#000" stroke-width="0.8"/>
<line x1="321.95" y1="341" x2="321.95" y2="342.8" stroke="#000" stroke-width="0.8"/>
<line x1="324.2" y1="341" x2="324.2" y2="342.8" stroke="#000" stroke-width="0.8"/>
<line x1="326.45" y1="341" x2="326.45" y2="342.8" stroke="#000" stroke-width="0.8"/>
<line x1="328.7" y1="341" x2="328.7" y2="342.8" stroke="#000" stroke-width="0.8"/>
<line x1="330.95" y1="341" x2="330.95" y2="342.8" stroke="#000" stroke-width="0.8"/>
<line x1="333.2" y1="341" x2="333.2" y2="342.8" stroke="#000" stroke-width="0.8"/>
<line x1="335.45" y1="341" x2="335.45" y2="342.8" stroke="#000" stroke-width="0.8"/>
<line x1="337.7" y1="341" x2="337.7" y2="342.8" stroke="#000" stroke-width="0.8"/>
<line x1="339.95" y1="341" x2="339.95" y2="342.8" stroke="#000" stroke-width="0.8"/>
<line x1="342.2" y1="341" x2="342.2" y2="342.8" stroke="#000" stroke-width="0.8"/>
<line x1="344.45" y1="341" x2="344.45" y2="342.8" stroke="#000" stroke-width="0.8"/>
<line x1="346.7" y1="341" x2="346.7" y2="342.8" stroke="#000" stroke-width="0.8"/>
<line x1="348.95" y1="341" x2="348.95" y2="342.8" stroke="#000" stroke-width="0.8"/>
<line x1="351.2" y1="341" x2="351.2" y2="342.8" stroke="#000" stroke-width="0.8"/>
<line x1="353.45" y1="341" x2="353.45" y2="342.8" stroke="#000" stroke-width="0.8"/>
<line x1="355.7" y1="341" x2="355.7" y2="342.8" stroke="#000" stroke-width="0.8"/>
<line x1="357.95" y1="341" x2="357.95" y2="342.8" stroke="#000" stroke-width="0.8"/>
<line x1="373.84737980054314" y1="341" x2="373.84737980054314" y2="342.8" stroke="#000" stroke-width="0.8"/>
<line x1="381.9475777171045" y1="341" x2="381.9475777171045" y2="342.8" stroke="#000" stroke-width="0.8"/>
<line x1="387.6947596010863" y1="341" x2="387.6947596010863" y2="342.8" stroke="#000" stroke-width="0.8"/>
<line x1="392.15262019945686" y1="341" x2="392.15262019945686" y2="342.8" stroke="#000" stroke-width="0.8"/>
<line x1="395.7949575176476" y1="341" x2="395.7949575176476" y2="342.8" stroke="#000" stroke-width="0.8"/>
<line x1="398.87450984065583" y1="341" x2="398.87450984065583" y2="342.8" stroke="#000" stroke-width="0.8"/>
<line x1="401.5421394016294" y1="341" x2="401.5421394016294" y2="342.8" stroke="#000" stroke-width="0.8"/>
<line x1="403.89515543420896" y1="341" x2="403.89515543420896" y2="342.8" stroke="#000" stroke-width="0.8"/>
<text x="306.2" y="354.4" font-size="7.5" fill="#333" text-anchor="middle" font-weight="normal" >-10<tspan font-size="5" dy="-2.8">3</tspan></text>
<text x="333" y="354.4" font-size="7.5" fill="#333" text-anchor="middle" font-weight="normal" >0</text>
<text x="359.8" y="354.4" font-size="7.5" fill="#333" text-anchor="middle" font-weight="normal" >10<tspan font-size="5" dy="-2.8">3</tspan></text>
<text x="405.5" y="354.4" font-size="7.5" fill="#333" text-anchor="middle" font-weight="normal" >10<tspan font-size="5" dy="-2.8">4</tspan></text>
<text x="354.3" y="367.3" font-size="8.4" fill="#333" text-anchor="middle" font-weight="normal" textLength="53.5" lengthAdjust="spacingAndGlyphs" stroke="#333" stroke-width="0.22">FITC-anti-mouse</text>
<rect x="329.9" y="289" width="7.2" height="47" rx="3.6" fill="none" stroke="#9aa2ba" stroke-width="0.8"/>
<rect x="330.9" y="291" width="5.2" height="40" rx="2.6" fill="none" stroke="#7c86a2" stroke-width="0.7"/>
<ellipse cx="333.5" cy="292.6" rx="2.1" ry="1.6" fill="none" fill-opacity="0.5" stroke="#9aa2ba" stroke-width="0.75"/>
<ellipse cx="333.5" cy="301" rx="2.1" ry="2.2" fill="#8088a8" fill-opacity="0.5" stroke="#56648a" stroke-width="0.75"/>
<ellipse cx="333.5" cy="309.7" rx="2.1" ry="1.8" fill="none" fill-opacity="0.5" stroke="#9aa2ba" stroke-width="0.75"/>
<ellipse cx="333.5" cy="317.2" rx="2.1" ry="2.8" fill="#6a7498" fill-opacity="0.5" stroke="#56648a" stroke-width="0.75"/>
<ellipse cx="333.5" cy="326.5" rx="2.1" ry="1.8" fill="none" fill-opacity="0.5" stroke="#9aa2ba" stroke-width="0.75"/>
<path d="M331.6,329 Q333.5,333 335.4,329" fill="none" stroke="#d8a0b8" stroke-width="0.7"/>
<circle cx="333.4" cy="337.3" r="3" fill="#e8b0c0" fill-opacity="0.7" stroke="#a83458" stroke-width="1"/>
<circle cx="333.4" cy="337.3" r="1.5" fill="none" stroke="#b04060" stroke-width="0.7"/>
<ellipse cx="333.3" cy="342" rx="2.6" ry="1.6" fill="#111"/>
<path d="M331.5,330 Q333.5,334 335.5,330" fill="none" stroke="#d090a8" stroke-width="0.7"/>
<path d="M392.6,272.2 C394.5,273.5 396.2,276 396.3,283 C396.5,290 395.5,296 394.4,299.1 C392.5,305 391,308 390.7,311 C390,316 390.5,320 389.8,322 C389,325 388.5,326.5 387,327 C384,329.5 381,330 379.6,329.8 C374,330 368,330.5 364.7,329.8 C362.5,328.5 362,326 361,325.1 C358,323.3 356,322 353.6,321.4 C349,320.6 344,320.4 342.4,319.6 C340.2,318.5 339.8,316.5 340.6,315.8 C342,314.3 344,313.5 346.1,313 C350,312 354,311.8 357.3,311.2 C361,310.5 364.5,309.5 366.6,307.5 C368.3,305.6 368.8,304.2 369.3,302.8 C370.2,299.8 371,297.6 372.1,295.4 C373.2,293 373.9,291.4 374.9,289.8 C376.5,287.3 378.3,285.6 379.6,283.4 C380.4,281.8 380.6,280 381.4,278.7 C382.6,276.8 384,275.9 386,275 C388,274 389.5,272.4 390.7,272.2 C391.4,272 392,272 392.6,272.2 Z" fill="none" stroke="#7c86a2" stroke-width="0.9"/>
<path d="M391.5,276 C393,277.5 393.8,281 393.6,286 C393.3,292 392,297 390.5,301 C388.8,305 388.2,309 388,313 C387.7,318 387.5,322 385,324.5 C381,327 375,326.8 368,326 C362,325.3 358,322 352,320 C347,318.5 343.5,317.8 343.5,316.2 C344,315 347,314.5 351,314 C357,313.2 363,312.5 367.5,310 C370.5,308 371.5,304.5 372.8,300.5 C374,296.5 375.5,292.5 377.5,289 C379.5,285.5 381.5,282.5 383.5,280 C386,277.5 389,275.5 391.5,276 Z" fill="none" stroke="#56648a" stroke-width="0.8"/>
<path d="M347,316.5 C352,315.5 360,314.8 366,313.5 C371,312 373,309 375,305 C377,301 379,297 381,293 C383,289.5 385,287 387,287.5 C389,289 388.5,294 387.2,299 C385.8,304 385.6,310 385.2,315 C384.8,320 382.5,323.5 377,324 C370,324.5 364,323.5 358,321.5 C353,319.8 348.5,318.5 347,316.5 Z" fill="none" stroke="#7c86a2" stroke-width="0.7"/>
<circle cx="387.9" cy="283.4" r="3.5" fill="none" stroke="#7c86a2" stroke-width="0.8"/>
<circle cx="387.9" cy="283.4" r="1.8" fill="none" stroke="#9aa2ba" stroke-width="0.6"/>
<ellipse cx="382" cy="298.5" rx="8" ry="6" transform="rotate(-30 382 298.5)" fill="none" stroke="#a84878" stroke-width="0.7" stroke-opacity="0.85"/>
<ellipse cx="382.5" cy="300" rx="9.5" ry="7.5" transform="rotate(-30 382.5 300)" fill="none" stroke="#a84878" stroke-width="0.7" stroke-opacity="0.85"/>
<ellipse cx="383.5" cy="304" rx="8" ry="10" transform="rotate(-15 383.5 304)" fill="none" stroke="#a84878" stroke-width="0.7" stroke-opacity="0.85"/>
<ellipse cx="384" cy="308" rx="6.5" ry="12" transform="rotate(-10 384 308)" fill="none" stroke="#a84878" stroke-width="0.7" stroke-opacity="0.85"/>
<g transform="rotate(-22 376 299)">
<ellipse cx="376" cy="299" rx="7.8" ry="4.4" fill="#5a6694" fill-opacity="0.6"/>
<ellipse cx="376" cy="299" rx="9" ry="5.6" fill="none" stroke="#56648a" stroke-width="0.8"/>
<ellipse cx="376" cy="299" rx="7" ry="4.4" fill="none" stroke="#56648a" stroke-width="0.8"/>
<ellipse cx="376" cy="299" rx="5" ry="3.2" fill="none" stroke="#56648a" stroke-width="0.8"/>
<ellipse cx="376" cy="299" rx="3.2" ry="2.1" fill="none" stroke="#56648a" stroke-width="0.8"/>
<ellipse cx="376" cy="299" rx="1.6" ry="1.1" fill="none" stroke="#56648a" stroke-width="0.8"/>
</g>
<ellipse cx="379.2" cy="299.4" rx="1.6" ry="1.1" fill="#c8cce0"/>
<path d="M351.5,317.3 C351.5,313.5 355,312.2 361,311.9 C369,311.6 377,311.6 381.5,312.6 C384,313.6 384,321 381.5,322.2 C377,323 369,323 361,322.8 C355,322.5 351.5,321 351.5,317.3 Z" fill="#c41840" fill-opacity="0.85"/>
<line x1="356" y1="313.4" x2="380" y2="313.4" stroke="#f0a0b8" stroke-width="0.5" stroke-opacity="0.5" stroke-dasharray="3,1.5"/>
<line x1="354" y1="315.3" x2="382" y2="315.3" stroke="#f0a0b8" stroke-width="0.5" stroke-opacity="0.35" stroke-dasharray="3,1.5"/>
<line x1="353" y1="317.2" x2="382.5" y2="317.2" stroke="#f0a0b8" stroke-width="0.5" stroke-opacity="0.55" stroke-dasharray="3,1.5"/>
<line x1="354" y1="319.2" x2="382" y2="319.2" stroke="#f0a0b8" stroke-width="0.5" stroke-opacity="0.35" stroke-dasharray="3,1.5"/>
<line x1="357" y1="321.1" x2="380" y2="321.1" stroke="#f0a0b8" stroke-width="0.5" stroke-opacity="0.45" stroke-dasharray="3,1.5"/>
<ellipse cx="367.5" cy="317.3" rx="15.50" ry="5.40" fill="none" stroke="#900a2c" stroke-width="0.5" stroke-opacity="0.7"/>
<ellipse cx="367.5" cy="317.3" rx="12.40" ry="4.32" fill="none" stroke="#900a2c" stroke-width="0.5" stroke-opacity="0.7"/>
<ellipse cx="367.5" cy="317.3" rx="9.30" ry="3.24" fill="none" stroke="#900a2c" stroke-width="0.5" stroke-opacity="0.7"/>
<ellipse cx="367.5" cy="317.3" rx="6.20" ry="2.16" fill="none" stroke="#900a2c" stroke-width="0.5" stroke-opacity="0.7"/>
<ellipse cx="367.5" cy="317.6" rx="18.5" ry="7.6" fill="none" stroke="#c05078" stroke-width="0.6" stroke-opacity="0.8"/>
<ellipse cx="367.5" cy="317.6" rx="21" ry="9.4" fill="none" stroke="#c05078" stroke-width="0.6" stroke-opacity="0.8"/>
<path d="M380,312 C384,309 386,305 387,301 M383,313.5 C387,310 389,306 389.5,302 M384.5,316 C388.5,313 390.5,308 391,304" fill="none" stroke="#c04070" stroke-width="0.6" stroke-opacity="0.8"/>
<rect x="0.5" y="0.5" width="518" height="375.5" fill="none" stroke="#000" stroke-width="1"/>
<line x1="519" y1="0" x2="519" y2="377" stroke="#000" stroke-width="2"/>
<line x1="0" y1="376.4" x2="520" y2="376.4" stroke="#000" stroke-width="1.3"/>
</svg>
</body></html>
